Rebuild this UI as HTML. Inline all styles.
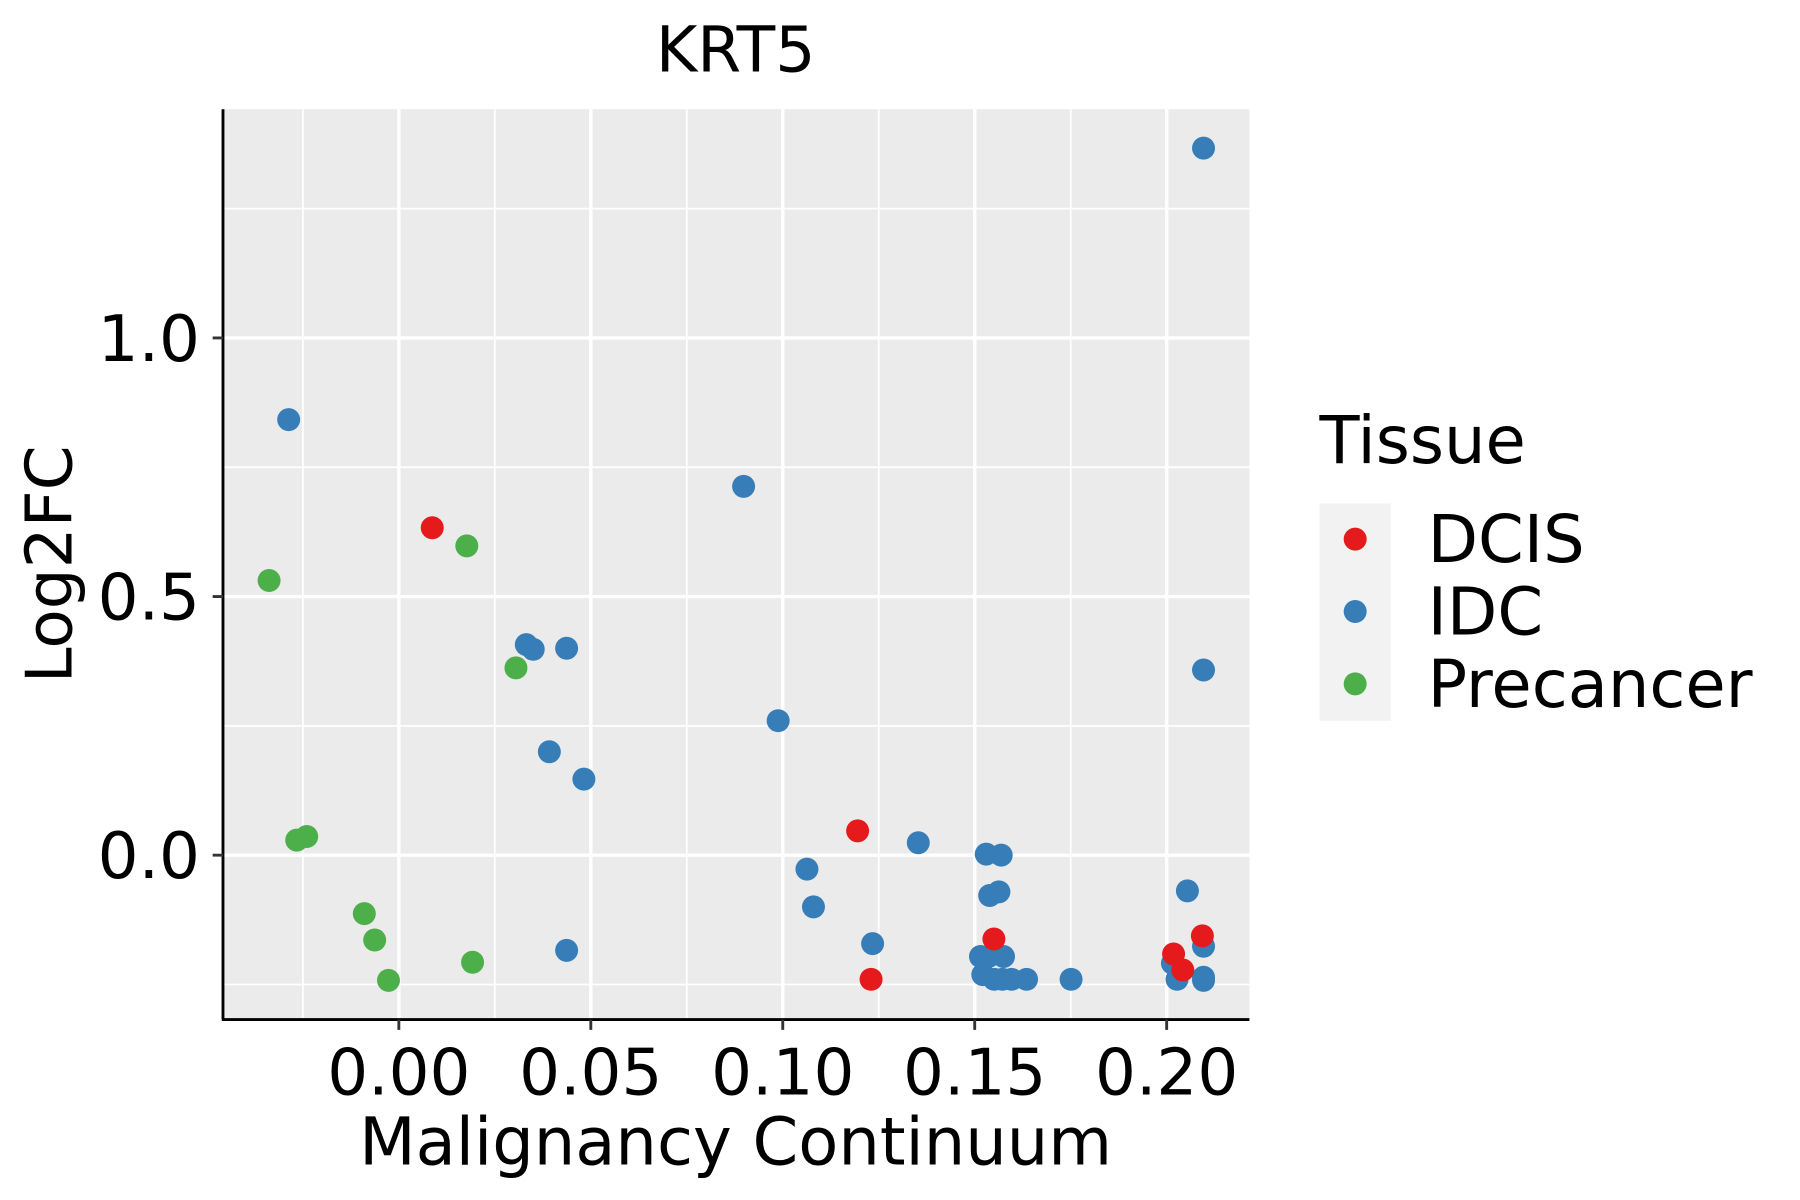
<!DOCTYPE html>
<html><head><meta charset="utf-8"><style>
html,body{margin:0;padding:0;background:#fff}
svg{display:block;font-family:"DejaVu Sans","Liberation Sans",sans-serif}
</style></head><body>
<svg id="chart" width="1800" height="1200" viewBox="0 0 1566 1044" preserveAspectRatio="none" xmlns="http://www.w3.org/2000/svg">
<rect x="194" y="95" width="893" height="792" fill="#EBEBEB"/>
<g id="grid"></g>
<g id="pts"></g>
<line x1="194" y1="95" x2="194" y2="887" stroke="#000" stroke-width="2.5"/>
<line x1="193" y1="887" x2="1087" y2="887" stroke="#000" stroke-width="2.5"/>
<g id="ticks"></g>
<text x="640" y="62" font-size="55" text-anchor="middle">KRT5</text>
<text x="640" y="1013" font-size="57" text-anchor="middle">Malignancy Continuum</text>
<text transform="translate(62,491) rotate(-90)" font-size="56" text-anchor="middle">Log2FC</text>
<g>
<text x="1148" y="403" font-size="57">Tissue</text>
<rect x="1148" y="438" width="62" height="189" fill="#F2F2F2"/>
<circle cx="1179" cy="469" r="10" fill="#E41A1C"/>
<circle cx="1179" cy="532" r="10" fill="#377EB8"/>
<circle cx="1179" cy="595" r="10" fill="#4DAF4A"/>
<text x="1242" y="489" font-size="57">DCIS</text>
<text x="1242" y="552" font-size="57">IDC</text>
<text x="1242" y="615" font-size="57">Precancer</text>
</g>
</svg>
<script>
const xTicks=[0,0.05,0.10,0.15,0.20];
const xTickLabels=["0.00","0.05","0.10","0.15","0.20"];
const yTicks=[0,0.5,1.0];
const yTickLabels=["0.0","0.5","1.0"];
const dcisX=[0.0087,0.1195,0.123,0.155,0.2018,0.2042,0.2093];
const dcisY=[0.633,0.047,-0.24,-0.162,-0.191,-0.222,-0.156];
const idcX=[-0.0287,0.0898,0.0332,0.035,0.0437,0.0392,0.0482,0.0988,0.1063,0.108,0.1234,0.1353,0.0437,0.153,0.1569,0.1539,0.1563,0.1515,0.1536,0.1575,0.1521,0.1551,0.1572,0.1596,0.1635,0.1751,0.2096,0.2096,0.2054,0.2096,0.2015,0.2027,0.2096,0.2096];
const idcY=[0.842,0.713,0.407,0.398,0.400,0.2,0.147,0.26,-0.027,-0.1,-0.171,0.024,-0.184,0.002,0,-0.078,-0.071,-0.196,-0.196,-0.196,-0.231,-0.24,-0.24,-0.24,-0.24,-0.24,1.367,0.358,-0.069,-0.176,-0.209,-0.24,-0.236,-0.242];
const preX=[-0.0338,0.0177,0.0305,-0.0266,-0.024,-0.009,-0.0063,-0.0027,0.0192];
const preY=[0.531,0.598,0.362,0.029,0.036,-0.113,-0.164,-0.242,-0.207];
const NS="http://www.w3.org/2000/svg";
function sx(v){return 347+v*3340;}
function sy(v){return 744-v*450;}
const grid=document.getElementById('grid'),ticks=document.getElementById('ticks'),pts=document.getElementById('pts');
function line(p,x1,y1,x2,y2,c,w,name){const l=document.createElementNS(NS,'line');l.setAttribute('x1',x1);l.setAttribute('y1',y1);l.setAttribute('x2',x2);l.setAttribute('y2',y2);l.setAttribute('stroke',c);l.setAttribute('stroke-width',w);


p.appendChild(l);}
for(let i=-1;i<xTicks.length;i++){const m=(i<0?xTicks[0]-0.025:xTicks[i]+0.025);line(grid,sx(m),95,sx(m),887,'#fff',1.5,'x-minor-grid');}
for(let i=-1;i<yTicks.length;i++){const m=(i<0?yTicks[0]-0.25:yTicks[i]+0.25);line(grid,194,sy(m),1087,sy(m),'#fff',1.5,'y-minor-grid');}
xTicks.forEach((v,i)=>{line(grid,sx(v),95,sx(v),887,'#fff',3,'x-major-grid');line(ticks,sx(v),887,sx(v),896,'#333',2.5,'x-tick');
const t=document.createElementNS(NS,'text');t.setAttribute('x',sx(v));t.setAttribute('y',952);t.setAttribute('font-size','56');t.setAttribute('text-anchor','middle');t.textContent=xTickLabels[i];


ticks.appendChild(t);});
yTicks.forEach((v,i)=>{line(grid,194,sy(v),1087,sy(v),'#fff',3,'y-major-grid');line(ticks,185,sy(v),194,sy(v),'#333',2.5,'y-tick');
const t=document.createElementNS(NS,'text');t.setAttribute('x',174);t.setAttribute('y',sy(v)+20);t.setAttribute('font-size','56');t.setAttribute('text-anchor','end');t.textContent=yTickLabels[i];


ticks.appendChild(t);});
function series(X,Y,col,name){X.forEach((x,i)=>{const c=document.createElementNS(NS,'circle');c.setAttribute('cx',sx(x));c.setAttribute('cy',sy(Y[i]));c.setAttribute('r',10);c.setAttribute('fill',col);


pts.appendChild(c);});}
series(preX,preY,'#4DAF4A','point-precancer');
series(idcX,idcY,'#377EB8','point-idc');
series(dcisX,dcisY,'#E41A1C','point-dcis');
</script>
</body></html>
